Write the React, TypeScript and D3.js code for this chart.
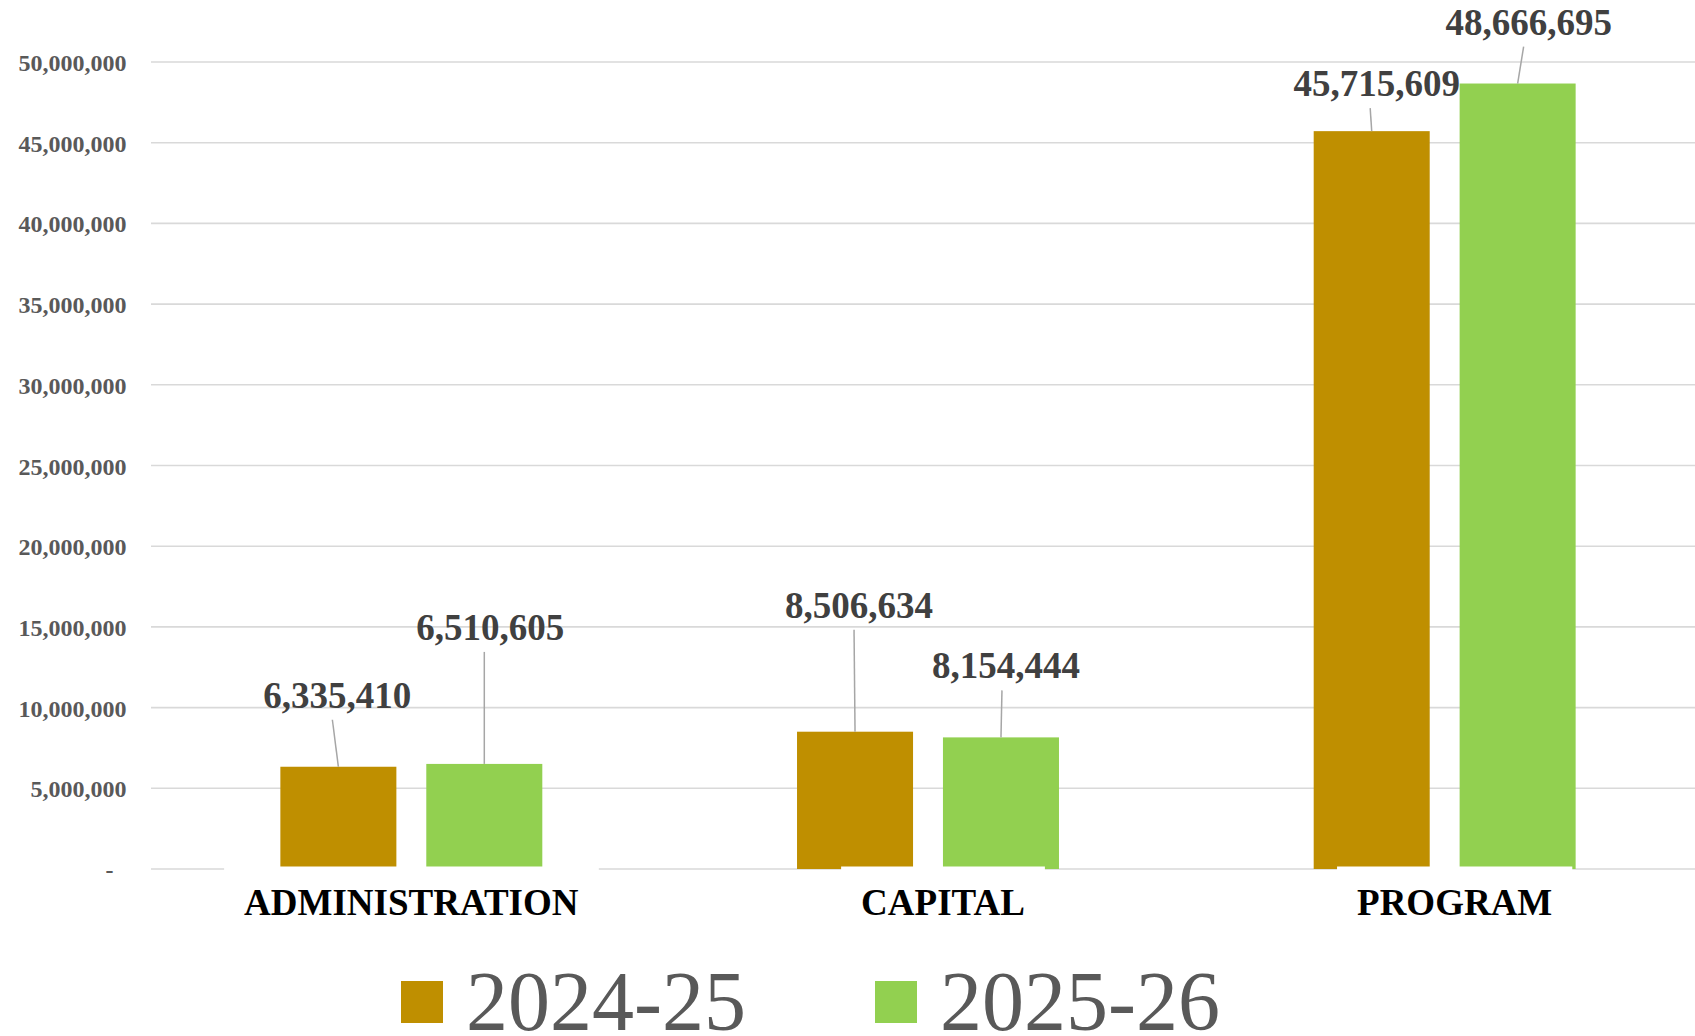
import React, { useEffect, useRef } from "react";
import * as d3 from "d3";

const categories = ["ADMINISTRATION", "CAPITAL", "PROGRAM"];
const seriesNames = ["2024-25", "2025-26"];
const values2024 = [6335410, 8506634, 45715609];
const values2025 = [6510605, 8154444, 48666695];
const yTicks = [0, 5000000, 10000000, 15000000, 20000000, 25000000, 30000000, 35000000, 40000000, 45000000, 50000000];
const seriesColors = ["#BF8F00", "#92D050"];

// label layout (offsets from bar centre / bar top), per series per category
const labelDx = [[-1, 4, 5], [6, 5, 11]];
const labelDy = [[-59, -114, -35], [-124, -59, -49]];
const leaderDx = [[-6, -1, -1.5], [0, 1, 6]];
const categoryDx = [0, 15, 10];

const W = 1695;
const H = 1036;
const FONT = "'Times New Roman', 'Liberation Serif', serif";

export default function App() {
  const ref = useRef<SVGSVGElement>(null);

  useEffect(() => {
    const svg = d3.select(ref.current);
    svg.selectAll("*").remove();

    const x0 = d3.scaleBand<string>().domain(categories).range([153, 1703]).paddingInner(0.493).paddingOuter(0.2465);
    const x1 = d3.scaleBand<string>().domain(seriesNames).range([0, x0.bandwidth()]).paddingInner(0.205);
    const y = d3.scaleLinear().domain([0, 50000000]).range([869, 62]);
    const fmt = d3.format(",");

    const series = [values2024, values2025];

    // gridlines
    svg.append("g").selectAll("line").data(yTicks).join("line")
      .attr("x1", 151).attr("x2", W)
      .attr("y1", (d) => y(d)).attr("y2", (d) => y(d))
      .attr("stroke", "#D9D9D9").attr("stroke-width", 1.6);

    // y tick labels
    svg.append("g").selectAll("text").data(yTicks).join("text")
      .attr("x", (d) => (d === 0 ? 113.5 : 126.5))
      .attr("y", (d) => y(d) + 9)
      .attr("text-anchor", "end")
      .attr("font-family", FONT).attr("font-weight", "bold").attr("font-size", 24)
      .attr("fill", "#595959")
      .text((d) => (d === 0 ? "-" : fmt(d)));

    // bars
    series.forEach((vals, si) => {
      svg.append("g").selectAll("rect").data(vals).join("rect")
        .attr("x", (d, i) => (x0(categories[i]) as number) + (x1(seriesNames[si]) as number))
        .attr("y", (d) => y(d))
        .attr("width", x1.bandwidth())
        .attr("height", (d) => y(0) - y(d))
        .attr("fill", seriesColors[si]);
    });

    // category labels with white boxes
    const catG = svg.append("g");
    categories.forEach((c, i) => {
      const cx = (x0(c) as number) + x0.bandwidth() / 2 + categoryDx[i];
      const box = catG.append("rect").attr("fill", "#FFFFFF");
      const t = catG.append("text")
        .attr("x", cx).attr("y", 915)
        .attr("text-anchor", "middle")
        .attr("font-family", FONT).attr("font-weight", "bold").attr("font-size", 37)
        .attr("fill", "#000000")
        .text(c);
      const bb = (t.node() as SVGTextElement).getBBox();
      box.attr("x", bb.x - 20).attr("width", bb.width + 40).attr("y", 866.5).attr("height", 62);
    });

    // data labels + leader lines
    series.forEach((vals, si) => {
      vals.forEach((v, i) => {
        const bc = (x0(categories[i]) as number) + (x1(seriesNames[si]) as number) + x1.bandwidth() / 2;
        const top = y(v);
        const ly = top + labelDy[si][i];
        svg.append("line")
          .attr("x1", bc + leaderDx[si][i]).attr("y1", ly + 12)
          .attr("x2", bc).attr("y2", top)
          .attr("stroke", "#A6A6A6").attr("stroke-width", 1.5);
        svg.append("text")
          .attr("x", bc + labelDx[si][i]).attr("y", ly)
          .attr("text-anchor", "middle")
          .attr("font-family", FONT).attr("font-weight", "bold").attr("font-size", 37)
          .attr("fill", "#404040")
          .text(fmt(v));
      });
    });

    // legend
    const legendX = [401, 875];
    seriesNames.forEach((s, si) => {
      svg.append("rect")
        .attr("x", legendX[si]).attr("y", 981).attr("width", 42).attr("height", 42)
        .attr("fill", seriesColors[si]);
      svg.append("text")
        .attr("x", legendX[si] + 65).attr("y", 1030)
        .attr("font-family", FONT).attr("font-size", 84)
        .attr("fill", "#595959")
        .text(s);
    });
  }, []);

  return (
    <svg
      ref={ref}
      width={W}
      height={H}
      style={{ position: "absolute", left: 0, top: 0, background: "#FFFFFF" }}
    />
  );
}
